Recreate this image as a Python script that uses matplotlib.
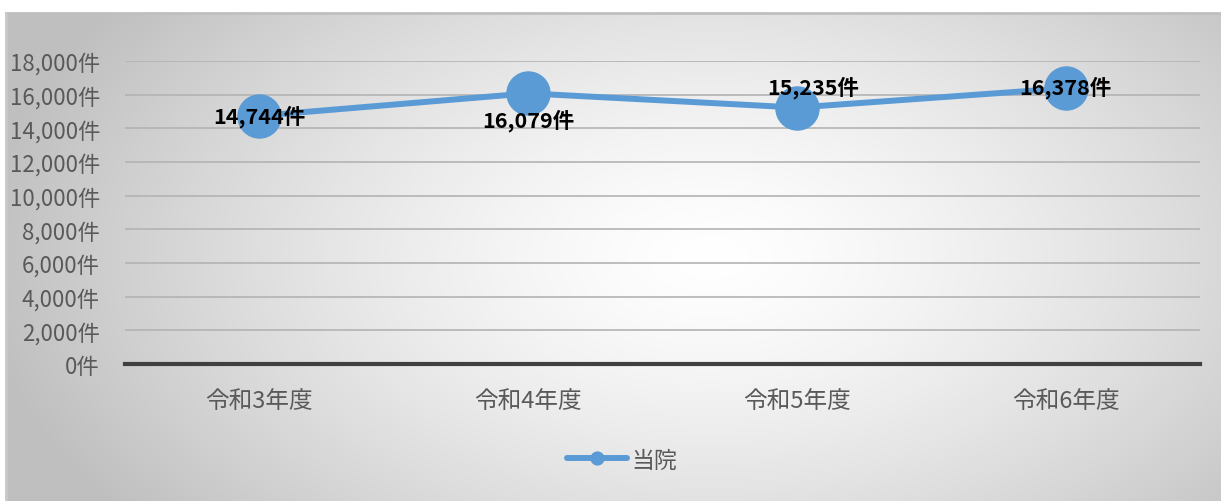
import numpy as np
import matplotlib
matplotlib.use("Agg")
import matplotlib.pyplot as plt
from matplotlib.ticker import FuncFormatter

plt.rcParams['font.family'] = ['Noto Sans CJK JP', 'DejaVu Sans']

categories = ["令和3年度", "令和4年度", "令和5年度", "令和6年度"]
values = [14744, 16079, 15235, 16378]
series_name = "当院"
yticks = list(range(0, 18001, 2000))
# label offsets in points (dx, dy)
label_offsets = [(0, 0), (0, -19), (12, 15), (0, 1)]

W, H = 1221, 502
fig = plt.figure(figsize=(W / 100, H / 100), dpi=100)

# background gradient panel
bg = fig.add_axes([6 / W, 0, (W - 6) / W, (H - 14) / H], zorder=-10)
nx, ny = 600, 250
xx, yy = np.meshgrid(np.linspace(0, 1, nx), np.linspace(0, 1, ny))
cx, cy = 0.58, 0.5
d = np.sqrt(((xx - cx) / 0.55) ** 2 + ((yy - cy) / 0.8) ** 2)
d = np.clip(d, 0, 1.1) / 1.1
val = 1.0 - 0.25 * d ** 1.4
img = np.dstack([val, val, val])
bg.imshow(img, aspect='auto', extent=[0, 1, 0, 1], origin='upper')
bg.set_xlim(0, 1)
bg.set_ylim(0, 1)
bg.axis('off')
# border lines top and left
fig.add_artist(plt.Line2D([6 / W, 1], [(H - 14) / H, (H - 14) / H], color='#bfbfbf', lw=2))
fig.add_artist(plt.Line2D([6 / W, 6 / W], [0, (H - 14) / H], color='#c8c8c8', lw=2))

ax = fig.add_axes([125 / W, 1 - 365 / H, (1200 - 125) / W, (365 - 62) / H])
ax.patch.set_alpha(0)
x = np.arange(len(categories))
ax.plot(x, values, color='#5b9bd5', lw=4.3, marker='o', markersize=32,
        markeredgewidth=0, solid_capstyle='round', label=series_name, zorder=3)
for xi, v, (dx, dy) in zip(x, values, label_offsets):
    ax.annotate(f"{v:,}件", (xi, v), xytext=(dx, dy), textcoords='offset points',
                ha='center', va='center', fontsize=15.5, fontweight='bold',
                color='black', zorder=5)

ax.set_xlim(-0.5, len(categories) - 0.5)
ax.set_ylim(0, 18000)
ax.set_yticks(yticks)
ax.yaxis.set_major_formatter(FuncFormatter(lambda v, p: f"{int(v):,}件"))
ax.set_xticks(x)
ax.set_xticklabels(categories)
ax.tick_params(axis='y', length=0, pad=18, labelsize=16, labelcolor='#595959')
ax.tick_params(axis='x', length=0, pad=18, labelsize=17, labelcolor='#595959')
for s in ['top', 'right', 'left']:
    ax.spines[s].set_visible(False)
ax.spines['bottom'].set_color('#404040')
ax.spines['bottom'].set_linewidth(3)
ax.grid(axis='y', color='#b3b3b3', lw=1.2)
ax.set_axisbelow(True)

leg = fig.legend(*ax.get_legend_handles_labels(), loc='center',
                 bbox_to_anchor=(622 / W, 1 - 461 / H), frameon=False,
                 fontsize=16.5, markerscale=0.32, handlelength=2.6,
                 handletextpad=0.2)
for t in leg.get_texts():
    t.set_color('#595959')

fig.savefig("out.png", dpi=100)
